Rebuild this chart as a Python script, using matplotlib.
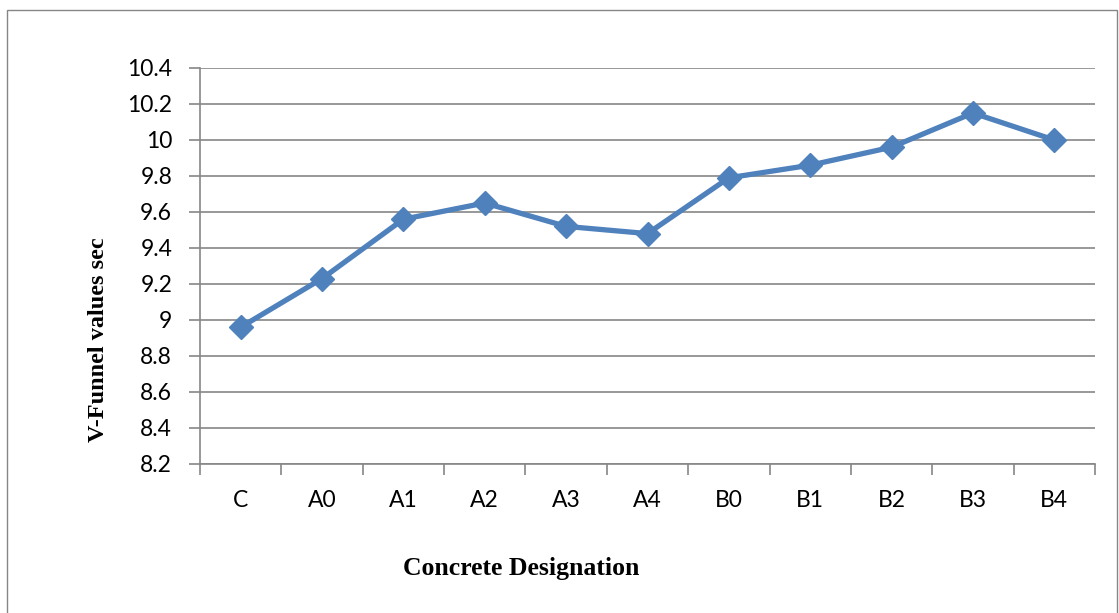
import matplotlib
matplotlib.use("Agg")
import matplotlib.pyplot as plt
from matplotlib.patches import Rectangle
from matplotlib.ticker import FixedLocator, NullFormatter

categories = ["C", "A0", "A1", "A2", "A3", "A4", "B0", "B1", "B2", "B3", "B4"]
vfunnel_sec = [8.96, 9.23, 9.56, 9.65, 9.52, 9.48, 9.79, 9.86, 9.96, 10.15, 10.00]
y_ticks = [8.2, 8.4, 8.6, 8.8, 9.0, 9.2, 9.4, 9.6, 9.8, 10.0, 10.2, 10.4]
y_tick_labels = ["8.2", "8.4", "8.6", "8.8", "9", "9.2", "9.4", "9.6", "9.8", "10", "10.2", "10.4"]

W, H = 1119, 613
fig = plt.figure(figsize=(W / 100, H / 100), dpi=100)
fig.patch.set_facecolor("white")

# chart frame
fig.patches.append(Rectangle((7 / W, -0.05), (1117 - 7) / W, 1 - 10 / H + 0.05,
                             transform=fig.transFigure, fill=False,
                             edgecolor="#868686", linewidth=1.0))

ax = fig.add_axes([200 / W, 1 - 464 / H, (1095 - 200) / W, (464 - 68) / H])
x = list(range(len(categories)))
ax.plot(x, vfunnel_sec, color="#4F81BD", linewidth=3.8, marker="D",
        markersize=12, markerfacecolor="#4F81BD", markeredgecolor="#4F81BD",
        zorder=3, clip_on=False)

ax.set_xlim(-0.5, len(categories) - 0.5)
ax.set_ylim(8.2, 10.4)
ax.set_yticks(y_ticks)
ax.set_yticklabels(y_tick_labels, fontfamily="Lato", fontsize=16.5)
ax.yaxis.grid(True, color="#868686", linewidth=1.2)
ax.set_axisbelow(True)

# category labels centred, tick marks on the boundaries
ax.xaxis.set_major_locator(FixedLocator([i - 0.5 for i in range(len(categories) + 1)]))
ax.xaxis.set_major_formatter(NullFormatter())
ax.xaxis.set_minor_locator(FixedLocator(x))
ax.set_xticklabels(categories, minor=True, fontfamily="Lato", fontsize=16.5)
ax.tick_params(axis="x", which="minor", length=0, pad=19)
ax.tick_params(axis="x", which="major", length=8, width=1.2, color="#868686", direction="out")
ax.tick_params(axis="y", length=8, width=1.2, color="#868686", direction="out", pad=12)

for side in ("top", "right"):
    ax.spines[side].set_visible(False)
for side in ("left", "bottom"):
    ax.spines[side].set_color("#868686")
    ax.spines[side].set_linewidth(1.2)

fig.text(521 / W, 1 - 568 / H, "Concrete Designation", ha="center", va="center",
         fontfamily="Liberation Serif", fontweight="bold", fontsize=18.5)
fig.text(99 / W, 1 - 340 / H, "V-Funnel values sec", ha="center", va="center",
         rotation=90, fontfamily="Liberation Serif", fontweight="bold", fontsize=17.5)

fig.savefig("out.png", dpi=100)
